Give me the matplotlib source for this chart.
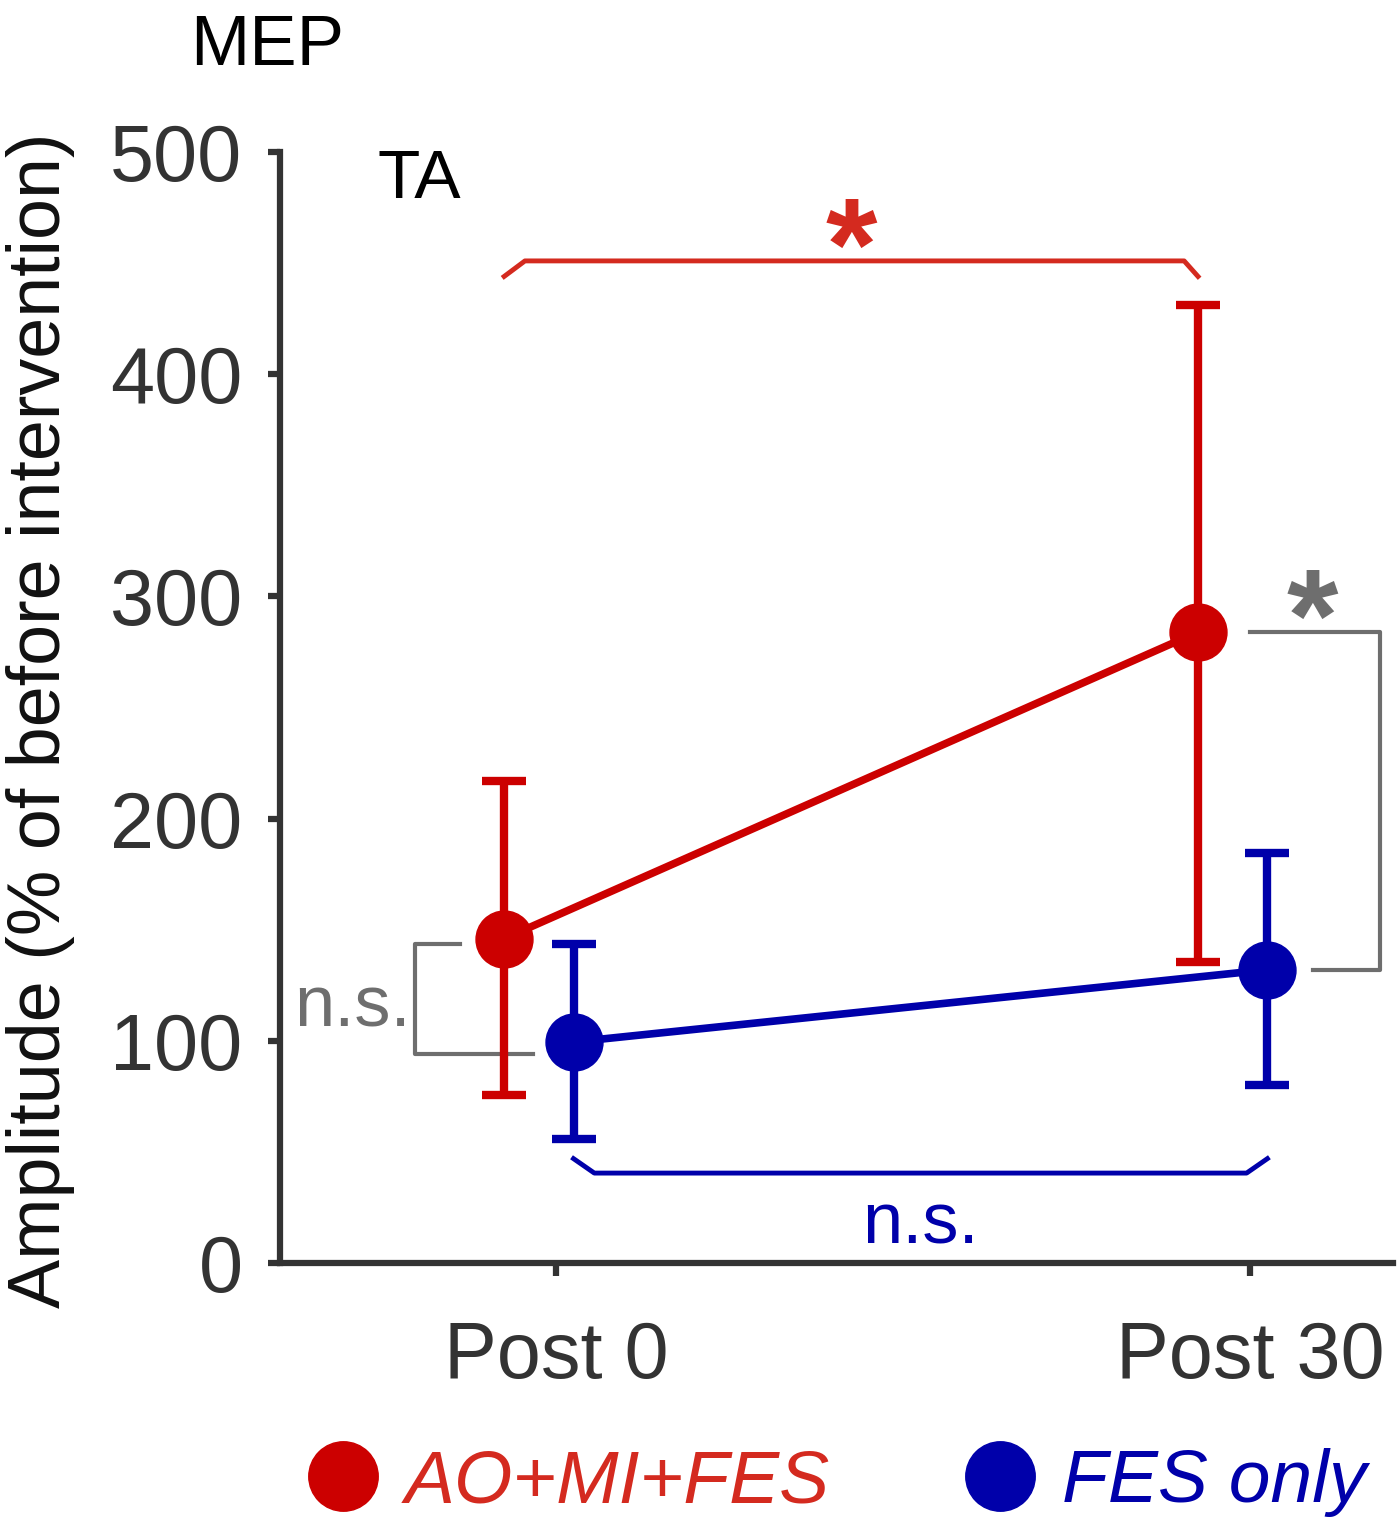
import matplotlib
matplotlib.use('Agg')
import matplotlib.pyplot as plt
from matplotlib.lines import Line2D
import numpy as np

plt.rcParams['font.family'] = ['Liberation Sans', 'DejaVu Sans']

# data (% of before intervention)
timepoints = ['Post 0', 'Post 30']
groups = ['AO+MI+FES', 'FES only']
mean_combo = [146, 284]
err_lo_combo = [75.5, 135.5]
err_hi_combo = [217, 431]
mean_fes = [99.5, 132]
err_lo_fes = [56, 80]
err_hi_fes = [143.5, 184.5]
yticks = [0, 100, 200, 300, 400, 500]

RED = '#cc0000'
RED_T = '#d42a1f'
BLUE = '#0000aa'
GRAY = '#6e6e6e'
DARK = '#333333'

fig = plt.figure(figsize=(14, 15.31), dpi=100)
ax = fig.add_axes([0.2, 0.175, 0.795, 0.7257])

x = np.arange(len(timepoints))
xr = x - 0.075   # red group drawn a bit left of the tick
xb = x + 0.025   # blue group a bit right

for xs, m, lo, hi, c in [(xr, mean_combo, err_lo_combo, err_hi_combo, RED),
                         (xb, mean_fes, err_lo_fes, err_hi_fes, BLUE)]:
    m = np.array(m)
    yerr = [m - np.array(lo), np.array(hi) - m]
    ax.errorbar(xs, m, yerr=yerr, color=c, lw=5.5, elinewidth=6, capsize=16,
                capthick=6, marker='o', markersize=41, zorder=3)

# significance brackets
ax.plot([xr[0], xr[0] + 0.03, xr[1] - 0.02, xr[1]], [444, 451, 451, 444],
        color=RED_T, lw=3.5, clip_on=False)
ax.text((xr[0] + xr[1]) / 2, 426, '*', color=RED_T, fontsize=95, fontweight='bold',
        ha='center', va='bottom')

ax.plot([xb[0], xb[0] + 0.03, xb[1] - 0.03, xb[1]], [47, 40.5, 40.5, 47],
        color=BLUE, lw=3.5)
ax.text((xb[0] + xb[1]) / 2, 32, 'n.s.', color=BLUE, fontsize=52,
        ha='center', va='top')

ax.plot([1.0, 1.187, 1.187, 1.09], [mean_combo[1], mean_combo[1], mean_fes[1], mean_fes[1]],
        color=GRAY, lw=3, clip_on=False)
ax.text(1.09, 259, '*', color=GRAY, fontsize=95, fontweight='bold',
        ha='center', va='bottom')

ax.plot([-0.138, -0.203, -0.203, -0.034], [err_hi_fes[0], err_hi_fes[0], 94, 94],
        color=GRAY, lw=3)
ax.text(-0.21, 115, 'n.s.', color=GRAY, fontsize=52, ha='right', va='center')

ax.set_xlim(-0.398, 1.206)
ax.set_ylim(0, 500)
ax.set_xticks(x)
ax.set_xticklabels(timepoints)
ax.set_yticks(yticks)
for s in ['top', 'right']:
    ax.spines[s].set_visible(False)
for s in ['left', 'bottom']:
    ax.spines[s].set_linewidth(4.5)
    ax.spines[s].set_color(DARK)
ax.tick_params(axis='both', width=4.5, length=9, color=DARK, labelcolor=DARK,
               labelsize=57)
ax.tick_params(axis='y', pad=18)
ax.tick_params(axis='x', pad=32)

ax.set_ylabel('Amplitude (% of before intervention)', fontsize=53, color='#111111')
ax.yaxis.set_label_coords(-0.184, 0.489)

ax.text(0.088, 0.9586, 'TA', transform=ax.transAxes, fontsize=50, va='baseline')
fig.text(0.1357, 0.9575, 'MEP', fontsize=51, va='baseline')

# legend
handles = [Line2D([], [], color=RED, marker='o', ls='none', markersize=50),
           Line2D([], [], color=BLUE, marker='o', ls='none', markersize=50)]
leg = fig.legend(handles, groups, loc='center left', bbox_to_anchor=(0.218, 0.0314),
                 ncol=2, frameon=False, handlelength=1.0, handletextpad=0.33,
                 columnspacing=1.76, borderpad=0, borderaxespad=0,
                 prop={'size': 54, 'style': 'italic'})
for t, c in zip(leg.get_texts(), [RED_T, BLUE]):
    t.set_color(c)

fig.savefig('out.png', dpi=100)
